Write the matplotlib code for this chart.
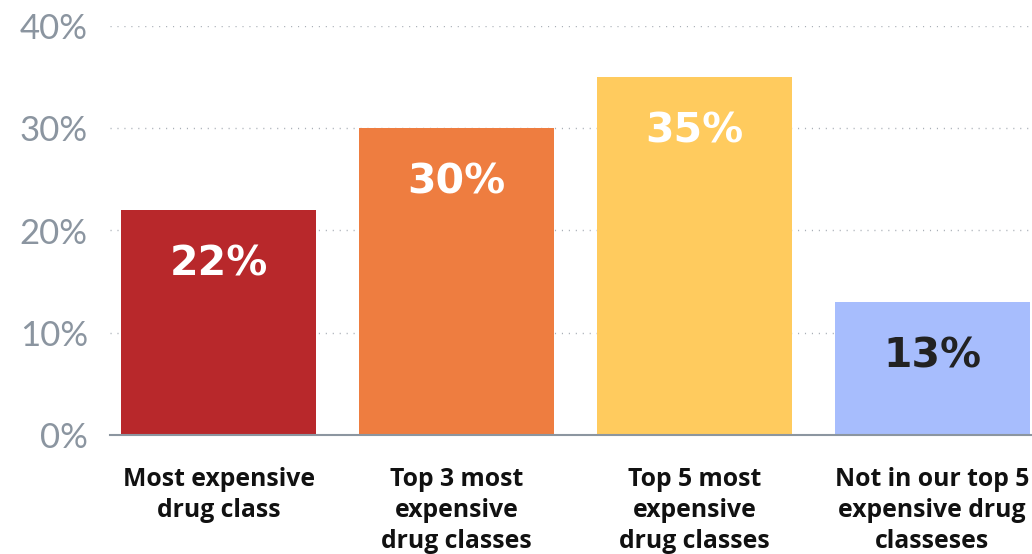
import matplotlib.pyplot as plt
from matplotlib.ticker import FuncFormatter

# Share of spending by drug class group
categories = ["Most expensive\ndrug class",
              "Top 3 most\nexpensive\ndrug classes",
              "Top 5 most\nexpensive\ndrug classes",
              "Not in our top 5\nexpensive drug\nclasseses"]
values = [22, 30, 35, 13]
bar_colors = ["#B8282B", "#EE7D40", "#FFCB5E", "#A7BDFD"]
label_colors = ["white", "white", "white", "#222222"]
yticks = [0, 10, 20, 30, 40]

fig = plt.figure(figsize=(10.32, 5.54), dpi=100)
ax = fig.add_axes([110 / 1032, 119 / 554, 922 / 1032, 409 / 554])

x = range(len(categories))
ax.bar(x, values, width=0.82, color=bar_colors, zorder=2)

# value labels inside the top of each bar
for xi, v, c in zip(x, values, label_colors):
    ax.annotate(f"{v}%", (xi, v), xytext=(0, -47), textcoords="offset points",
                ha="center", va="baseline", fontsize=29.5, fontweight="bold",
                family="DejaVu Sans", color=c, zorder=3)

ax.set_xlim(-0.458, 3.42)
ax.set_ylim(0, 40)
ax.set_yticks(yticks)
ax.yaxis.set_major_formatter(FuncFormatter(lambda v, _: f"{v:.0f}%"))
ax.tick_params(axis="y", length=0, pad=16, labelsize=25, labelcolor="#8B95A0")
for lab in ax.get_yticklabels():
    lab.set_family("Lato")

ax.set_xticks(list(x))
ax.set_xticklabels(categories, fontsize=17.8, fontweight="bold", family="Open Sans",
                   color="#111111", linespacing=1.32, va="top")
ax.tick_params(axis="x", length=0, pad=23)

# dotted horizontal gridlines
for t in yticks[1:]:
    ax.axhline(t, color="#A9AFB7", linewidth=1.0, dashes=(0.8, 4.2), zorder=1)

for s in ["top", "right", "left"]:
    ax.spines[s].set_visible(False)
ax.spines["bottom"].set_color("#8C96A0")
ax.spines["bottom"].set_linewidth(1.5)
ax.spines["bottom"].set_zorder(3)

fig.savefig("out.png", dpi=100)
